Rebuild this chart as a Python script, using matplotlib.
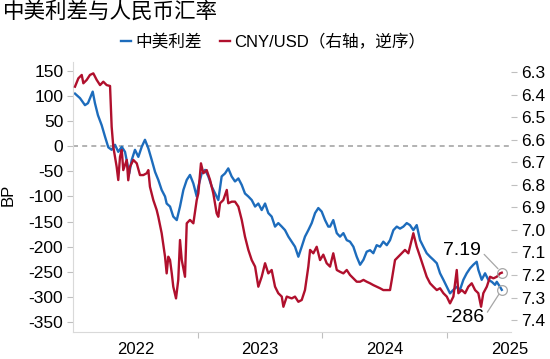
import matplotlib.pyplot as plt
from matplotlib.ticker import FixedLocator, NullFormatter, FormatStrFormatter

plt.rcParams['font.family'] = ['Liberation Sans', 'Noto Sans CJK SC']
plt.rcParams['axes.unicode_minus'] = False

# 中美利差 (BP), time as decimal year
spread_t = [2022.016, 2022.056, 2022.096, 2022.120, 2022.158, 2022.176, 2022.200, 2022.230, 2022.257, 2022.283,
            2022.310, 2022.337, 2022.363, 2022.391, 2022.417, 2022.451, 2022.471, 2022.497, 2022.524, 2022.551,
            2022.577, 2022.604, 2022.631, 2022.658, 2022.684, 2022.711, 2022.738, 2022.751, 2022.778, 2022.804,
            2022.832, 2022.858, 2022.885, 2022.912, 2022.938, 2022.965, 2022.992, 2023.005, 2023.032, 2023.059,
            2023.085, 2023.112, 2023.139, 2023.165, 2023.192, 2023.219, 2023.245, 2023.272, 2023.299, 2023.326,
            2023.353, 2023.379, 2023.406, 2023.433, 2023.460, 2023.486, 2023.513, 2023.540, 2023.566, 2023.593,
            2023.620, 2023.646, 2023.674, 2023.700, 2023.727, 2023.754, 2023.780, 2023.807, 2023.834, 2023.860,
            2023.887, 2023.914, 2023.941, 2023.967, 2023.994, 2024.021, 2024.047, 2024.061, 2024.087, 2024.115,
            2024.141, 2024.168, 2024.195, 2024.221, 2024.248, 2024.275, 2024.302, 2024.329, 2024.355, 2024.382,
            2024.408, 2024.435, 2024.462, 2024.488, 2024.516, 2024.542, 2024.569, 2024.596, 2024.622, 2024.649,
            2024.676, 2024.702, 2024.729, 2024.756, 2024.783, 2024.809, 2024.836, 2024.863, 2024.889, 2024.917,
            2024.943, 2024.970, 2024.997, 2025.023, 2025.050, 2025.077, 2025.103, 2025.130, 2025.157, 2025.184,
            2025.210, 2025.237, 2025.250, 2025.277, 2025.304, 2025.330, 2025.358, 2025.384, 2025.398, 2025.424,
            2025.438]
spread_bp = [105, 96, 82, 86, 109, 86, 62, 42, 19, -2,
             -7, 3, -11, -1, -11, -54, -27, -7, -21, -1,
             13, -4, -27, -51, -67, -87, -100, -114, -120, -140,
             -147, -120, -87, -67, -57, -74, -100, -80, -54, -47,
             -60, -80, -94, -107, -60, -54, -44, -60, -70, -64,
             -77, -94, -100, -107, -120, -114, -127, -114, -133, -140,
             -160, -153, -160, -167, -180, -190, -200, -220, -200, -180,
             -167, -153, -133, -123, -130, -147, -160, -160, -147, -173,
             -180, -173, -187, -190, -200, -220, -236, -226, -210, -207,
             -213, -197, -200, -190, -197, -187, -167, -160, -164, -160,
             -153, -157, -167, -157, -187, -200, -213, -220, -226, -233,
             -253, -266, -280, -293, -286, -280, -286, -266, -253, -243,
             -236, -230, -246, -266, -253, -266, -270, -276, -270, -280,
             -286]

# CNY/USD
cny_t = [2022.016, 2022.043, 2022.070, 2022.083, 2022.110, 2022.136, 2022.163, 2022.190, 2022.217, 2022.243,
         2022.270, 2022.297, 2022.310, 2022.323, 2022.350, 2022.363, 2022.377, 2022.391, 2022.403, 2022.431,
         2022.443, 2022.457, 2022.484, 2022.511, 2022.537, 2022.564, 2022.591, 2022.604, 2022.617, 2022.644,
         2022.671, 2022.684, 2022.711, 2022.738, 2022.751, 2022.764, 2022.778, 2022.792, 2022.804, 2022.826,
         2022.844, 2022.858, 2022.872, 2022.898, 2022.912, 2022.938, 2022.965, 2022.992, 2023.005, 2023.026,
         2023.045, 2023.072, 2023.099, 2023.125, 2023.152, 2023.165, 2023.179, 2023.205, 2023.233, 2023.245,
         2023.273, 2023.299, 2023.326, 2023.353, 2023.379, 2023.406, 2023.433, 2023.460, 2023.486, 2023.513,
         2023.540, 2023.566, 2023.593, 2023.620, 2023.646, 2023.674, 2023.687, 2023.714, 2023.754, 2023.780,
         2023.807, 2023.834, 2023.860, 2023.887, 2023.901, 2023.927, 2023.954, 2023.981, 2024.007, 2024.034,
         2024.061, 2024.087, 2024.115, 2024.141, 2024.168, 2024.195, 2024.221, 2024.248, 2024.275, 2024.302,
         2024.329, 2024.355, 2024.382, 2024.408, 2024.435, 2024.462, 2024.488, 2024.516, 2024.542, 2024.556,
         2024.582, 2024.609, 2024.636, 2024.662, 2024.689, 2024.702, 2024.729, 2024.756, 2024.783, 2024.809,
         2024.836, 2024.863, 2024.889, 2024.917, 2024.943, 2024.970, 2024.997, 2025.023, 2025.050, 2025.077,
         2025.090, 2025.117, 2025.144, 2025.170, 2025.197, 2025.224, 2025.250, 2025.272, 2025.290, 2025.318,
         2025.344, 2025.371, 2025.398, 2025.424, 2025.438]
cny = [6.365, 6.328, 6.313, 6.350, 6.335, 6.313, 6.306, 6.335, 6.358, 6.343,
       6.358, 6.362, 6.543, 6.631, 6.720, 6.779, 6.676, 6.646, 6.735, 6.690,
       6.780, 6.720, 6.690, 6.705, 6.757, 6.757, 6.749, 6.735, 6.809, 6.868,
       6.912, 6.942, 7.015, 7.119, 7.193, 7.119, 7.134, 7.193, 7.252, 7.304,
       7.222, 7.045, 7.134, 7.208, 6.971, 6.956, 6.971, 6.868, 6.838, 6.705,
       6.749, 6.735, 6.779, 6.838, 6.927, 6.942, 6.882, 6.868, 6.823, 6.882,
       6.875, 6.875, 6.897, 6.956, 7.030, 7.089, 7.134, 7.163, 7.252, 7.208,
       7.148, 7.193, 7.178, 7.252, 7.281, 7.296, 7.341, 7.296, 7.304, 7.296,
       7.319, 7.311, 7.267, 7.163, 7.089, 7.104, 7.075, 7.134, 7.110, 7.148,
       7.163, 7.104, 7.178, 7.186, 7.193, 7.178, 7.200, 7.215, 7.230, 7.230,
       7.222, 7.230, 7.237, 7.245, 7.252, 7.259, 7.267, 7.267, 7.267, 7.222,
       7.134, 7.119, 7.104, 7.089, 7.104, 7.075, 7.015, 7.075, 7.119, 7.163,
       7.208, 7.237, 7.252, 7.267, 7.259, 7.281, 7.296, 7.326, 7.296, 7.178,
       7.281, 7.267, 7.281, 7.252, 7.237, 7.267, 7.281, 7.341, 7.281, 7.252,
       7.208, 7.215, 7.208, 7.193, 7.190]

year_ticks = [2023, 2024, 2025]
year_label_pos = [2022.5, 2023.5, 2024.5, 2025.5]
year_labels = ['2022', '2023', '2024', '2025']
left_ticks = [150, 100, 50, 0, -50, -100, -150, -200, -250, -300, -350]
right_ticks = [6.3, 6.4, 6.5, 6.6, 6.7, 6.8, 6.9, 7.0, 7.1, 7.2, 7.3, 7.4]

blue = '#1d6cbc'
red = '#b0102d'
grey = '#bfbfbf'

fig = plt.figure(figsize=(5.5, 3.59), dpi=100)
ax = fig.add_axes([73 / 550, 1 - 332 / 359, 438 / 550, 270 / 359])
ax2 = ax.twinx()

l1, = ax.plot(spread_t, spread_bp, color=blue, lw=1.7, label='中美利差')
l2, = ax2.plot(cny_t, cny, color=red, lw=1.7, label='CNY/USD（右轴，逆序）')
ax.axhline(0, color='#a6a6a6', lw=1.2, ls=(0, (3, 2.5)), zorder=0)

ax.set_xlim(2022.0, 2025.512)
ax.set_ylim(-370, 168)
ax2.set_ylim(7.453, 6.2556)

ax.xaxis.set_major_locator(FixedLocator(year_ticks))
ax.xaxis.set_major_formatter(NullFormatter())
ax.xaxis.set_minor_locator(FixedLocator(year_label_pos))
ax.set_xticklabels(year_labels, minor=True)
ax.tick_params(axis='x', which='major', length=4, width=0.8, color=grey)
ax.tick_params(axis='x', which='minor', length=0, labelsize=12, pad=7)

ax.set_yticks(left_ticks)
ax.tick_params(axis='y', length=4, width=0.8, color=grey, labelsize=12.5, pad=3)
ax2.set_yticks(right_ticks)
ax2.yaxis.set_major_formatter(FormatStrFormatter('%.1f'))
ax2.tick_params(axis='y', length=4, width=0.8, color=grey, labelsize=12.5, pad=3)

for s in ['top', 'right']:
    ax.spines[s].set_visible(False)
for s in ['top', 'right', 'left', 'bottom']:
    ax2.spines[s].set_visible(False)
ax.spines['left'].set_color('#d9d9d9')
ax.spines['bottom'].set_color('#d9d9d9')

ax.set_ylabel('BP', fontsize=12)
ax.yaxis.set_label_coords(-0.131, 0.507)

# end markers and labels
ax2.plot(cny_t[-1], cny[-1], marker='o', ms=7, mfc='none', mec='#a6a6a6', mew=0.9)
ax.plot(spread_t[-1], spread_bp[-1], marker='o', ms=7, mfc='none', mec='#a6a6a6', mew=0.9)
ax2.annotate(f'{cny[-1]:.2f}', xy=(cny_t[-1], cny[-1]), xytext=(-29, 16), textcoords='offset points',
             ha='center', va='center', fontsize=14,
             arrowprops=dict(arrowstyle='-', color='#a6a6a6', lw=0.9, relpos=(1, 0.5), shrinkA=1, shrinkB=4))
ax2.annotate(f'{spread_bp[-1]}', xy=(spread_t[-1], spread_bp[-1]), xycoords=ax.transData,
             xytext=(-27, -20), textcoords='offset points',
             ha='center', va='center', fontsize=14,
             arrowprops=dict(arrowstyle='-', color='#a6a6a6', lw=0.9, relpos=(1, 0.5), shrinkA=1, shrinkB=4))

fig.text(0.005, 1 - 12 / 359, '中美利差与人民币汇率', fontsize=15.5, va='center', ha='left')
fig.legend([l1, l2], [l1.get_label(), l2.get_label()], loc='center left',
           bbox_to_anchor=(121 / 550, 1 - 42 / 359), ncol=2, frameon=False, fontsize=12,
           handlelength=0.6, handletextpad=0.25, columnspacing=1.1, borderaxespad=0, borderpad=0)

fig.savefig('out.png', dpi=100)
